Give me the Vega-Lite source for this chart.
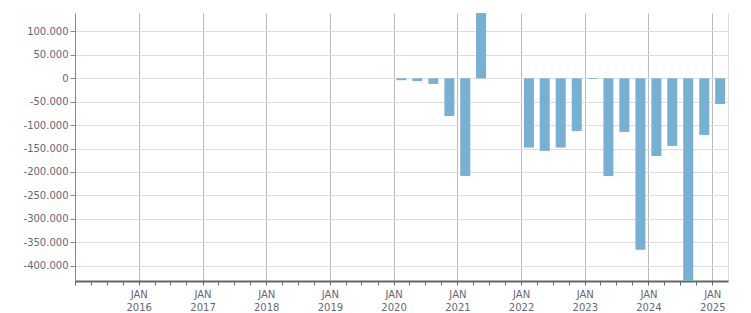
{
  "$schema": "https://vega.github.io/schema/vega-lite/v6.json",
  "width": 653,
  "height": 268,
  "autosize": {"type": "none"},
  "padding": {"left": 75, "top": 13, "right": 23, "bottom": 32},
  "background": "white",
  "config": {
    "view": {"stroke": null},
    "axis": {"labelFont": "DejaVu Sans", "labelFontSize": 10, "labelColor": "#666677"}
  },
  "data": {
    "values": [
      {"quarter": "2020-01-01", "value": -4000},
      {"quarter": "2020-04-01", "value": -6000},
      {"quarter": "2020-07-01", "value": -12000},
      {"quarter": "2020-10-01", "value": -80500},
      {"quarter": "2021-01-01", "value": -208500},
      {"quarter": "2021-04-01", "value": 145000},
      {"quarter": "2022-01-01", "value": -148000},
      {"quarter": "2022-04-01", "value": -155000},
      {"quarter": "2022-07-01", "value": -148000},
      {"quarter": "2022-10-01", "value": -112500},
      {"quarter": "2023-01-01", "value": -1500},
      {"quarter": "2023-04-01", "value": -208500},
      {"quarter": "2023-07-01", "value": -114500},
      {"quarter": "2023-10-01", "value": -366500},
      {"quarter": "2024-01-01", "value": -166000},
      {"quarter": "2024-04-01", "value": -144500},
      {"quarter": "2024-07-01", "value": -450000},
      {"quarter": "2024-10-01", "value": -121000},
      {"quarter": "2025-01-01", "value": -55000}
    ]
  },
  "mark": {"type": "bar", "color": "#78b0d4", "clip": true, "width": 10},
  "encoding": {
    "x": {
      "field": "quarter",
      "timeUnit": "utcyearquarter",
      "type": "temporal",
      "bandPosition": 0.5,
      "title": null,
      "scale": {"type": "utc", "domain": [{"year": 2015, "month": 1, "date": 1, "utc": true}, {"year": 2025, "month": 4, "date": 1, "utc": true}]},
      "axis": {
        "tickCount": {"interval": "month", "step": 3},
        "labelExpr": "utcmonth(datum.value) == 0 && utcyear(datum.value) > 2015 ? ['JAN', utcFormat(datum.value, '%Y')] : ''",
        "labelOverlap": false,
        "labelFlush": false,
        "labelAlign": "center",
        "labelLineHeight": 13,
        "labelPadding": 4,
        "domainColor": "#666666",
        "domainWidth": 2,
        "tickColor": "#666666",
        "tickSize": 4,
        "tickOpacity": {"condition": {"test": "utcyear(datum.value) == 2025 && utcmonth(datum.value) == 3", "value": 0}, "value": 1},
        "grid": true,
        "gridColor": {"condition": {"test": "utcmonth(datum.value) == 0", "value": "#bbbbbb"}, "value": "#dddddd"},
        "gridOpacity": {"condition": {"test": "utcmonth(datum.value) == 0 || (utcyear(datum.value) == 2025 && utcmonth(datum.value) == 3)", "value": 1}, "value": 0}
      }
    },
    "y": {
      "field": "value",
      "type": "quantitative",
      "title": null,
      "scale": {"domain": [-433000, 139500], "nice": false, "zero": false},
      "axis": {
        "values": [-400000, -350000, -300000, -250000, -200000, -150000, -100000, -50000, 0, 50000, 100000],
        "labelExpr": "replace(replace(format(datum.value, ',d'), regexp(',', 'g'), '.'), '\u2212', '-')",
        "domainColor": "#888888",
        "domainWidth": 1,
        "tickColor": "#888888",
        "tickSize": 5,
        "labelPadding": 2,
        "gridColor": "#dddddd"
      }
    }
  }
}
